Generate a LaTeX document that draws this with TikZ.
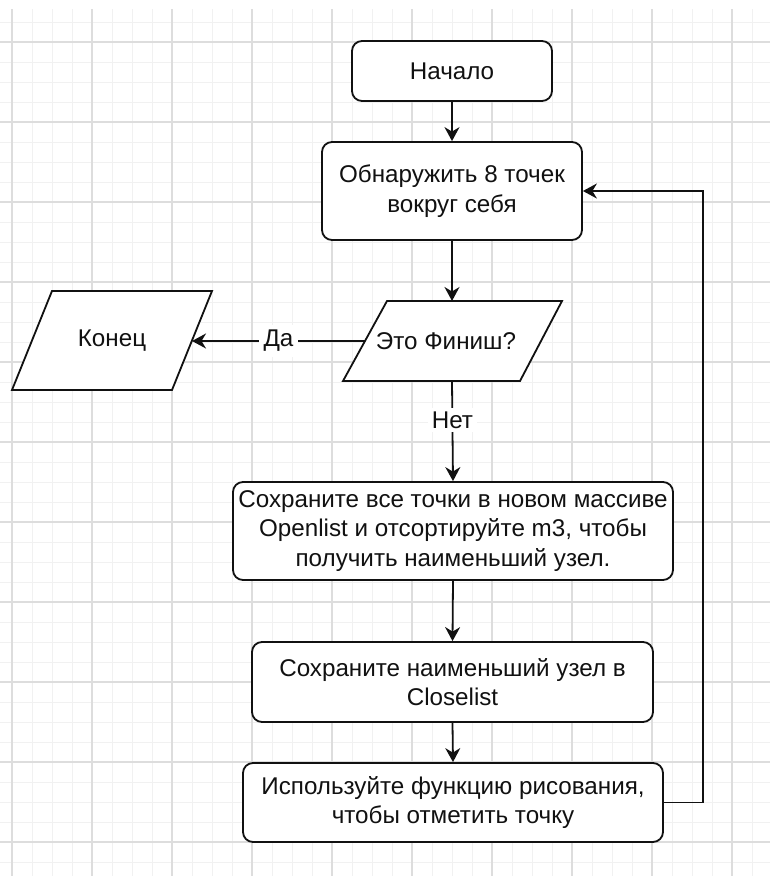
\documentclass[tikz,border=0pt]{standalone}
\usepackage{fontspec}
\setmainfont{Liberation Sans}
\usetikzlibrary{arrows.meta}
\definecolor{gridminor}{HTML}{F1F1F1}
\definecolor{gridmajor}{HTML}{DDDDDD}
\definecolor{ink}{HTML}{111111}
\tikzset{
  box/.style={draw=ink, line width=1.8pt, rounded corners=10pt, fill=white, align=center, text=ink, inner sep=0pt},
  shapeline/.style={draw=ink, line width=1.8pt, fill=white, line join=miter},
  txt/.style={text=ink, align=center, inner sep=0pt},
  arr/.style={draw=ink, line width=1.8pt, -{Stealth[length=14pt, width=15pt, inset=4.5pt]}},
  lbl/.style={fill=white, text=ink, inner sep=5pt},
  gminor/.style={draw=gridminor, line width=1pt},
  gmajor/.style={draw=gridmajor, line width=1.2pt}
}
\begin{document}
\begin{tikzpicture}[x=1pt, y=-1pt, font=\fontsize{24.2}{29.5}\selectfont]
\useasboundingbox (0,0) rectangle (770,876);
\fill[white] (0,0) rectangle (770,876);
% grid
\foreach \x in {12,32,...,752} \draw[gminor] (\x,9) -- (\x,876);
\foreach \y in {22,42,...,862} \draw[gminor] (0,\y) -- (770,\y);
\foreach \x in {12,92,...,732} \draw[gmajor] (\x,9) -- (\x,876);
\foreach \y in {42,122,...,842} \draw[gmajor] (0,\y) -- (770,\y);

% nodes
\node[box, minimum width=200pt, minimum height=60pt] (start) at (452,71) {Начало};
\node[box, minimum width=260pt, minimum height=98pt] (detect) at (452,191) {Обнаружить 8 точек\\вокруг себя};

% decision parallelogram
\draw[shapeline] (387,301) -- (562,301) -- (520,381) -- (343,381) -- cycle;
\coordinate (dtop) at (452,301);
\coordinate (dbot) at (452,381);
\coordinate (dleft) at (365,341);
\node[txt] (dec) at (446,341) {Это Финиш?};

% end parallelogram
\draw[shapeline] (52,291) -- (212,291) -- (172,390) -- (12,390) -- cycle;
\coordinate (eright) at (192,341);
\node[txt] (endn) at (112,341) {Конец};

\node[box, minimum width=440pt, minimum height=98pt] (store) at (453,531) {Сохраните все точки в новом массиве\\Openlist и отсортируйте m3, чтобы\\получить наименьший узел.};
\node[box, minimum width=401pt, minimum height=80pt] (least) at (452.5,682) {Сохраните наименьший узел в\\Closelist};
\node[box, minimum width=420pt, minimum height=79pt] (drawn) at (453,802.5) {Используйте функцию рисования,\\чтобы отметить точку};

\coordinate (loopx) at (703,0);

% connectors
\draw[arr] (start.south) -- (detect.north);
\draw[arr] (detect.south) -- (dtop);
\draw[arr] (dleft) -- node[lbl, pos=0.5] (yes) {Да\hspace{15pt}} (eright);
\draw[arr] (dbot) -- node[lbl, pos=0.39, inner sep=4pt] (no) {Нет} (store.north);
\draw[arr] (store.south) -- (least.north);
\draw[arr] (least.south) -- (drawn.north);
\draw[arr] (drawn.east) -- (drawn.east -| loopx) |- (detect.east);
\end{tikzpicture}
\end{document}
